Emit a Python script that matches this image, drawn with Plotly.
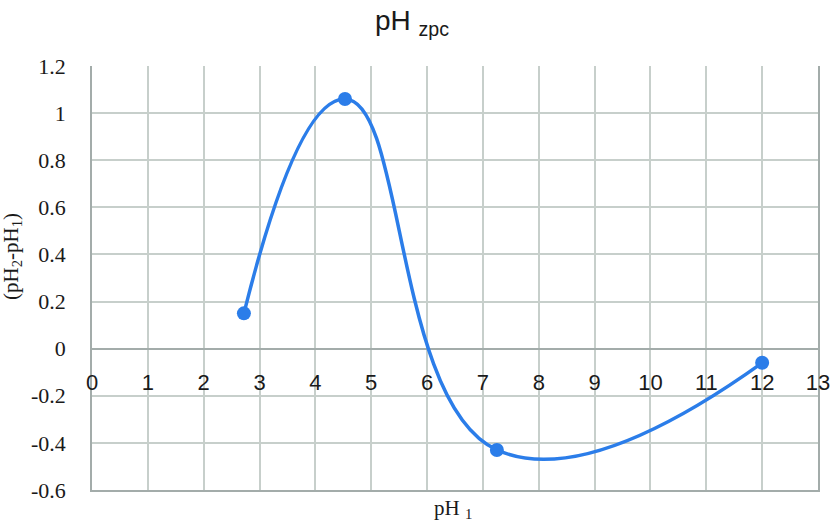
import plotly.graph_objects as go

# Data
ph1 = [2.72, 4.53, 7.25, 12.0]
delta_ph = [0.15, 1.06, -0.43, -0.06]

x_ticks = list(range(0, 14))
x_tick_labels = [str(v) for v in x_ticks]
y_ticks = [1.2, 1.0, 0.8, 0.6, 0.4, 0.2, 0.0, -0.2, -0.4, -0.6]
y_tick_labels = ["1.2", "1", "0.8", "0.6", "0.4", "0.2", "0", "-0.2", "-0.4", "-0.6"]

BLUE = "#2b7de9"
GRID = "#c7cfcb"
AXIS = "#a3acaa"
SERIF = "Liberation Serif, Times New Roman, serif"
SANS = "Liberation Sans, Arial, sans-serif"

W, H = 830, 524
ML, MR, MT, MB = 92, 12, 66, 34
XRANGE = [0, 13]

fig = go.Figure()
fig.add_trace(go.Scatter(
    x=ph1, y=delta_ph, mode="lines+markers",
    line=dict(color=BLUE, width=3.5, shape="spline", smoothing=1.3),
    marker=dict(color=BLUE, size=14),
    showlegend=False, xaxis="x", yaxis="y",
))
# invisible companion trace so the zero-line tick-label axis is drawn
fig.add_trace(go.Scatter(
    x=ph1, y=delta_ph, mode="markers", marker=dict(opacity=0),
    hoverinfo="skip", showlegend=False, xaxis="x2", yaxis="y",
))

ymin, ymax = -0.6, 1.2
zero_pos = (0 - ymin) / (ymax - ymin)

fig.update_layout(
    template="none",
    width=W, height=H,
    margin=dict(l=ML, r=MR, t=MT, b=MB, autoexpand=False),
    paper_bgcolor="white", plot_bgcolor="white",
    title=dict(text="pH <sub>zpc</sub>", font=dict(family=SANS, size=28, color="#1a1a1a"),
               x=412 / W, xref="container", xanchor="center",
               y=1 - 20 / H, yref="container", yanchor="middle"),
    xaxis=dict(range=XRANGE, tickvals=x_ticks, showticklabels=False, automargin=False,
               showgrid=True, gridcolor=GRID, gridwidth=1.5,
               showline=True, linecolor=AXIS, linewidth=1.5,
               zeroline=False, anchor="y", ticks=""),
    xaxis2=dict(range=XRANGE, matches="x", overlaying="x", anchor="free", position=zero_pos,
                tickvals=x_ticks, ticktext=x_tick_labels, automargin=False,
                tickfont=dict(family=SANS, size=22, color="#1a1a1a"),
                ticklabelstandoff=18, ticklabeloverflow="allow",
                showgrid=False, showline=False, zeroline=False, ticks=""),
    yaxis=dict(range=[ymin, ymax], tickvals=y_ticks, ticktext=y_tick_labels, automargin=False,
               tickfont=dict(family=SERIF, size=22, color="#1a1a1a"),
               ticklabelstandoff=20,
               showgrid=True, gridcolor=GRID, gridwidth=1.5,
               showline=True, linecolor=AXIS, linewidth=1.5, mirror=True,
               zeroline=True, zerolinecolor=AXIS, zerolinewidth=2, ticks=""),
    annotations=[
        dict(text="(pH<sub>2</sub>-pH<sub>1</sub>)", textangle=-90,
             xref="paper", x=0, xshift=-(ML - 12), xanchor="center",
             yref="paper", y=(490 - 257) / (H - MT - MB), yanchor="middle",
             showarrow=False, font=dict(family=SERIF, size=21, color="#1a1a1a")),
        dict(text="pH <sub>1</sub>",
             xref="paper", x=(453 - ML) / (W - ML - MR), xanchor="center",
             yref="paper", y=0, yshift=-19, yanchor="middle",
             showarrow=False, font=dict(family=SERIF, size=21, color="#1a1a1a")),
    ],
)

fig.write_html("out.html")
